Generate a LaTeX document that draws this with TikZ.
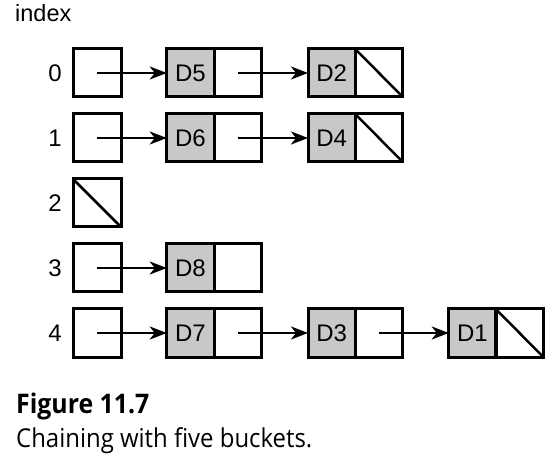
\documentclass[tikz,border=0pt]{standalone}
\usepackage{fontspec}
\setmainfont{Liberation Sans}
\newfontfamily\capfont[FakeStretch=0.92]{Open Sans}
\usetikzlibrary{arrows.meta}
\definecolor{cellgray}{HTML}{C8C8C8}
\tikzset{
  cell/.style={draw=black, line width=3pt, minimum width=47.5pt, minimum height=48pt, inner sep=0pt, outer sep=0pt, font=\fontsize{24}{28}\selectfont},
  datacell/.style={cell, fill=cellgray},
  ptr/.style={line width=2.5pt, -{Stealth[length=17pt,width=13pt,inset=5pt]}},
  nilline/.style={line width=2.5pt},
  idxlabel/.style={font=\fontsize{24}{28}\selectfont, inner sep=0pt},
}
\begin{document}
\begin{tikzpicture}[x=1pt,y=-1pt]
\useasboundingbox (0,0) rectangle (552,473);
\node[idxlabel, anchor=base west, font=\fontsize{23.5}{28}\selectfont] (idx) at (15,22) {index};
% index cells
\foreach \i/\y in {0/73,1/138,2/203,3/268,4/333}{
  \node[idxlabel] (n\i) at (55,\y) {\i};
  \node[cell, minimum width=48pt] (b\i) at (97,\y) {};
}
% row 0
\node[datacell] (d5) at (190.5,73) {D5};
\node[cell] (p5) at (238,73) {};
\node[datacell] (d2) at (331.75,73) {D2};
\node[cell] (p2) at (379,73) {};
% row 1
\node[datacell] (d6) at (190.5,138) {D6};
\node[cell] (p6) at (238,138) {};
\node[datacell] (d4) at (331.75,138) {D4};
\node[cell] (p4) at (379,138) {};
% row 3
\node[datacell] (d8) at (190.5,268) {D8};
\node[cell] (p8) at (238,268) {};
% row 4
\node[datacell] (d7) at (190.5,333) {D7};
\node[cell] (p7) at (238,333) {};
\node[datacell] (d3) at (331.75,333) {D3};
\node[cell] (p3) at (379,333) {};
\node[datacell] (d1) at (472.5,333) {D1};
\node[cell] (p1) at (519.5,333) {};
% arrows
\draw[ptr] (b0.center) -- (d5.west);
\draw[ptr] (p5.center) -- (d2.west);
\draw[ptr] (b1.center) -- (d6.west);
\draw[ptr] (p6.center) -- (d4.west);
\draw[ptr] (b3.center) -- (d8.west);
\draw[ptr] (b4.center) -- (d7.west);
\draw[ptr] (p7.center) -- (d3.west);
\draw[ptr] (p3.center) -- (d1.west);
% nil diagonals
\draw[nilline] (p2.north west) -- (p2.south east);
\draw[nilline] (p4.north west) -- (p4.south east);
\draw[nilline] (b2.north west) -- (b2.south east);
\draw[nilline] (p1.north west) -- (p1.south east);
% caption
\node[anchor=base west, inner sep=0pt, font=\capfont\bfseries\fontsize{27}{30}\selectfont] (fig) at (16,413) {Figure\ 11.7};
\node[anchor=base west, inner sep=0pt, font=\capfont\fontsize{26}{30}\selectfont] (cap) at (16,447) {Chaining with five buckets.};
\end{tikzpicture}
\end{document}
